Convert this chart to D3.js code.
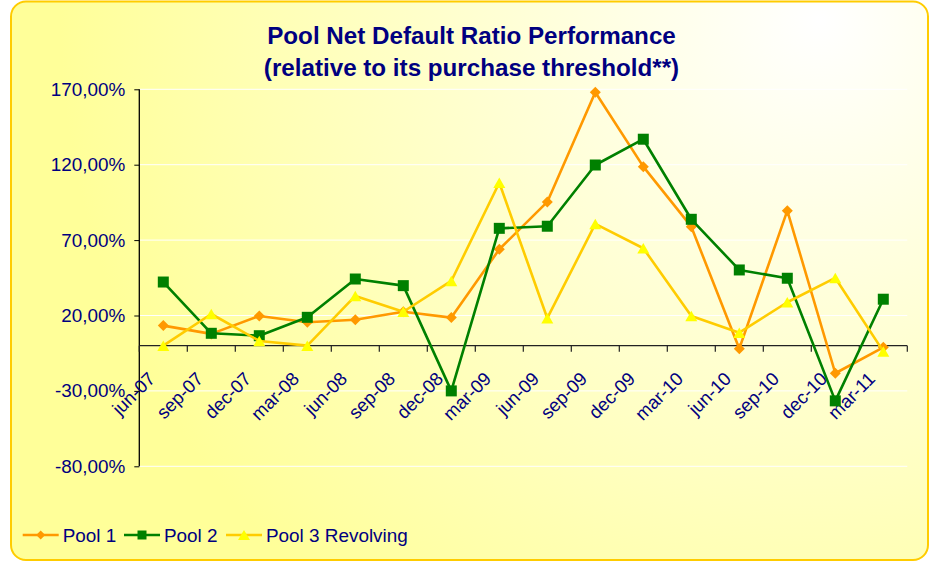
<!DOCTYPE html>
<html>
<head>
<meta charset="utf-8">
<script src="https://cdn.jsdelivr.net/npm/d3@7"></script>
<style>
html,body{margin:0;padding:0;background:#ffffff;}
svg{display:block;}
text{font-family:"Liberation Sans",Arial,sans-serif;}
</style>
</head>
<body>
<svg id="chart" width="932" height="562"></svg>
<script>
const categories = ["jun-07","sep-07","dec-07","mar-08","jun-08","sep-08","dec-08","mar-09","jun-09","sep-09","dec-09","mar-10","jun-10","sep-10","dec-10","mar-11"];
const pool1 = [13.3, 7.8, 19.7, 15.5, 17.2, 22.5, 18.6, 63.9, 95.3, 168.0, 118.7, 78.9, -2.0, 89.5, -18.3, -1.1];
const pool2 = [42.2, 8.2, 6.6, 18.8, 44.2, 39.8, -30.0, 77.8, 79.2, 119.8, 136.9, 83.8, 50.2, 44.7, -36.6, 30.8];
const pool3 = [0.0, 21.0, 3.1, 0.0, 33.0, 22.5, 42.9, 108.0, 18.2, 80.7, 64.6, 19.7, 8.6, 28.8, 44.9, -3.8];
const yTicks = [170, 120, 70, 20, -30, -80];
const seriesNames = ["Pool 1", "Pool 2", "Pool 3 Revolving"];
const titleLines = ["Pool Net Default Ratio Performance", "(relative to its purchase threshold**)"];

const svg = d3.select("#chart");
const defs = svg.append("defs");
const grad = defs.append("radialGradient").attr("id","bg")
  .attr("gradientUnits","userSpaceOnUse").attr("cx",820).attr("cy",20).attr("r",760);
grad.append("stop").attr("offset","0").attr("stop-color","#FFFFFF");
grad.append("stop").attr("offset","0.25").attr("stop-color","#FFFFE6");
grad.append("stop").attr("offset","1").attr("stop-color","#FFFF99");

svg.append("rect").attr("x",11).attr("y",1.5).attr("width",917).attr("height",558.5)
  .attr("rx",15).attr("ry",15).attr("fill","url(#bg)")
  .attr("stroke","#FFCC00").attr("stroke-width",2);

const navy = "#000080";
// Title
svg.append("g").selectAll("text").data(titleLines).join("text")
  .attr("x",471.5).attr("y",(d,i)=>44+i*31.5)
  .attr("text-anchor","middle").attr("font-size","24.2px").attr("font-weight","bold")
  .attr("fill",navy).text(d=>d);

const x = d3.scaleBand().domain(categories).range([139.3, 907.3]);
const y = d3.scaleLinear().domain([-80,170]).range([466.3, 89.3]);
const cx = d => x(d) + x.bandwidth()/2;

// gridlines
svg.append("g").selectAll("line").data(yTicks).join("line")
  .attr("x1",139.3).attr("x2",907.3).attr("y1",d=>y(d)).attr("y2",d=>y(d))
  .attr("stroke","#FFFFFF").attr("stroke-width",1);

// y axis
const loc = d3.formatLocale({decimal:",", thousands:".", grouping:[3], currency:["","€"], minus:"-"});
const fmt = loc.format(".2f");
const yAxis = d3.axisLeft(y).tickValues(yTicks).tickSize(5).tickPadding(9)
  .tickFormat(d => fmt(d) + "%");
const gy = svg.append("g").attr("transform","translate(139.3,0)").call(yAxis);
gy.select(".domain").attr("stroke","#000").attr("stroke-width",1.3).attr("d","M0,"+y(170)+"V"+y(-80));
gy.selectAll(".tick line").attr("stroke","#000");
gy.selectAll("text").attr("font-size","18.9px").attr("fill",navy)
  .attr("font-family","'Liberation Sans',Arial,sans-serif");

// x axis at zero
const bounds = categories.map(c=>x(c)).concat([x.range()[1]]);
const gx = svg.append("g");
gx.append("line").attr("x1",139.3).attr("x2",907.3).attr("y1",y(0)).attr("y2",y(0))
  .attr("stroke","#222").attr("stroke-width",1.3);
gx.selectAll("line.t").data(bounds).join("line").attr("class","t")
  .attr("x1",d=>d).attr("x2",d=>d).attr("y1",y(0)).attr("y2",y(0)+6)
  .attr("stroke","#222").attr("stroke-width",1.2);
gx.selectAll("text").data(categories).join("text")
  .attr("transform",d=>`translate(${cx(d)-7},380) rotate(-45)`)
  .attr("text-anchor","end").attr("font-size","18.5px").attr("fill",navy).text(d=>d);

// series
const line = d3.line().x((d,i)=>cx(categories[i])).y(d=>y(d));
const series = [
  {name:seriesNames[0], values:pool1, line:"#FF9900", marker:"#FF9900"},
  {name:seriesNames[1], values:pool2, line:"#008000", marker:"#008000"},
  {name:seriesNames[2], values:pool3, line:"#FFCC00", marker:"#FFFF00"}
];
function tri(w,h){ return `M0,${-h/2}L${w/2},${h/2}L${-w/2},${h/2}Z`; }
const markerPath = [ `M0,-5.5L5.5,0L0,5.5L-5.5,0Z`, `M-5.5,-5.5H5.5V5.5H-5.5Z`, tri(12,10.5) ];
const legendMarker = [ `M0,-4.5L4.5,0L0,4.5L-4.5,0Z`, `M-4.5,-4.5H4.5V4.5H-4.5Z`, tri(12,10) ];

series.forEach((s,k)=>{
  const g = svg.append("g");
  g.append("path").datum(s.values).attr("d",line).attr("fill","none")
    .attr("stroke",s.line).attr("stroke-width",2.6).attr("stroke-linejoin","round");
  g.selectAll("path.m").data(s.values).join("path").attr("class","m")
    .attr("transform",(d,i)=>`translate(${cx(categories[i])},${y(d)})`)
    .attr("d",markerPath[k]).attr("fill",s.marker);
});

// legend
const legX = [22.7, 124, 226];
const lg = svg.append("g");
series.forEach((s,k)=>{
  const g = lg.append("g").attr("transform",`translate(${legX[k]},535)`);
  g.append("line").attr("x1",0).attr("x2",36).attr("y1",0).attr("y2",0)
    .attr("stroke",s.line).attr("stroke-width",2.6);
  g.append("path").attr("transform","translate(18,0)").attr("d",legendMarker[k]).attr("fill",s.marker);
  g.append("text").attr("x",40).attr("y",7.3).attr("font-size","18.9px").attr("fill",navy).text(s.name);
});
</script>
</body>
</html>
